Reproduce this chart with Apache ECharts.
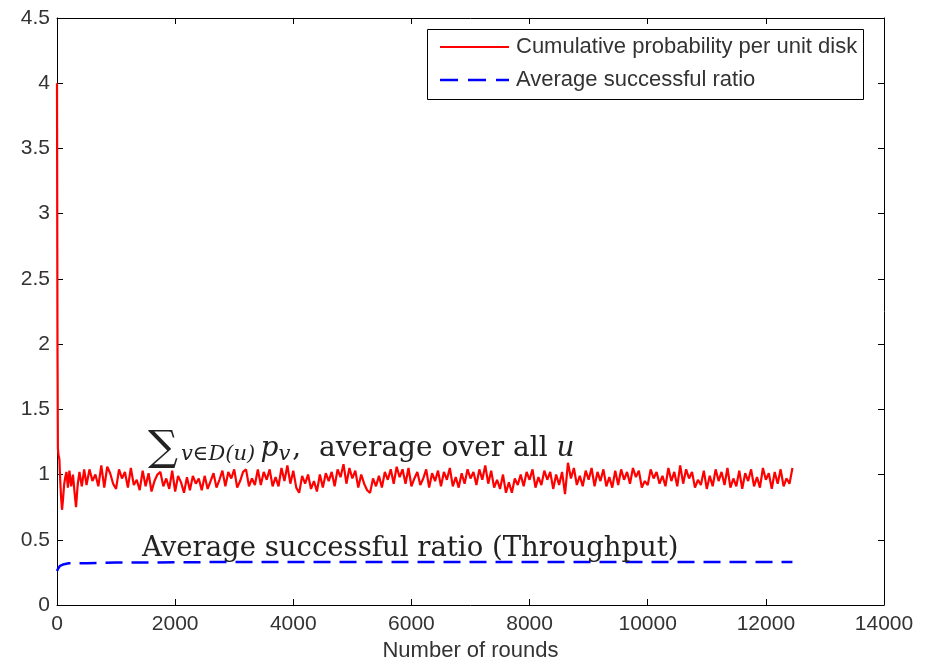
<!DOCTYPE html>
<html>
<head>
<meta charset="utf-8">
<script src="https://cdn.jsdelivr.net/npm/echarts@6/dist/echarts.min.js"></script>
<style>html,body{margin:0;padding:0;background:#fff}#c{width:935px;height:662px}</style>
</head>
<body>
<div id="c"></div>
<script>
// axis ticks
var xTicks = [0, 2000, 4000, 6000, 8000, 10000, 12000, 14000];
var yTicks = [0, 0.5, 1, 1.5, 2, 2.5, 3, 3.5, 4, 4.5];
var legendNames = ['Cumulative probability per unit disk', 'Average successful ratio'];

// Red: cumulative probability per unit disk — early transient (explicit rounds)
var redEarlyRounds = [0, 8, 15, 25, 40, 55, 70, 85, 100, 120, 140, 160, 185, 210, 240, 270, 300, 322, 350, 380, 420, 460];
var redEarlyValues = [4.0, 2.0, 1.2, 1.15, 1.12, 0.95, 0.82, 0.73, 0.80, 0.92, 0.98, 1.02, 0.90, 1.03, 0.91, 1.00, 0.85, 0.75, 0.92, 1.02, 0.91, 1.04];

// Red: rounds 500..12450, sampled every 50 rounds
var redStart = 500, redStep = 50;
var redValues = [
 0.92,1.04,0.95,1.00,0.91,1.07,0.90,1.06,1.01,0.93,0.89,1.04,0.97,1.02,0.90,1.05,0.92,0.96,0.88,1.03,
 0.91,1.01,0.87,0.95,1.00,1.02,0.91,0.97,0.89,1.03,0.87,0.99,0.94,0.86,0.98,0.88,0.99,0.93,0.97,0.88,
 0.99,0.89,0.95,1.01,0.90,0.96,1.03,0.91,1.02,0.97,1.04,0.90,0.95,1.02,1.04,0.91,0.97,0.92,1.04,0.92,
 1.02,0.96,1.04,0.91,0.98,0.91,1.05,0.95,1.07,0.93,1.03,0.90,0.86,0.99,0.93,1.00,0.89,0.95,0.87,1.00,
 0.90,1.01,0.95,1.02,0.91,1.04,0.98,1.08,0.93,1.05,0.97,1.03,0.90,1.00,0.93,0.88,0.86,0.97,0.91,0.99,
 0.90,1.02,0.96,1.04,0.93,1.06,0.98,1.04,0.93,1.05,0.91,0.97,1.02,0.92,0.97,1.04,0.90,1.01,0.95,1.03,
 0.91,1.02,0.96,1.05,0.91,0.98,0.90,1.01,0.93,1.04,0.97,1.02,0.92,1.04,0.96,1.07,0.93,1.03,0.90,0.96,
 0.89,1.00,0.86,0.94,0.86,0.97,0.92,1.00,0.91,1.02,0.96,1.04,0.90,0.98,0.92,1.03,0.96,1.02,0.89,1.00,
 0.92,1.02,0.85,1.09,0.97,1.05,0.92,0.99,0.91,1.03,0.96,1.05,0.91,1.02,0.95,1.04,0.91,0.98,0.90,1.03,
 0.92,1.04,0.96,1.02,0.93,1.05,0.98,1.03,0.90,0.95,0.92,1.04,0.97,1.02,0.93,0.99,0.91,1.05,0.95,1.02,
 0.91,1.07,0.93,1.04,0.97,1.02,0.90,0.96,0.92,1.03,0.89,0.99,0.91,1.04,0.95,1.02,0.92,1.05,0.90,0.97,
 0.91,1.03,0.89,1.01,0.95,1.04,0.91,0.98,0.90,1.05,0.96,1.01,0.89,1.02,0.93,1.04,0.91,0.97,0.93,1.05
];

// Blue: average successful ratio
var blueRounds = [0, 20, 50, 100, 200, 500, 1000, 3000, 12450];
var blueValues = [0.26, 0.28, 0.30, 0.31, 0.32, 0.32, 0.325, 0.33, 0.33];

var redData = [];
for (var i = 0; i < redEarlyRounds.length; i++) redData.push([redEarlyRounds[i], redEarlyValues[i]]);
for (var j = 0; j < redValues.length; j++) redData.push([redStart + j * redStep, redValues[j]]);
var blueData = blueRounds.map(function (r, k) { return [r, blueValues[k]]; });

var SANS = 'Liberation Sans, Arial, sans-serif';
var SERIF = 'DejaVu Serif';
var FS = 21;
function baseAxis(extra) {
  var o = {
    type: 'value',
    axisLine: {show: true, onZero: false, lineStyle: {color: '#000', width: 1}},
    axisTick: {show: true, inside: true, length: 6, lineStyle: {color: '#000'}},
    splitLine: {show: false}
  };
  for (var k in extra) o[k] = extra[k];
  return o;
}
function plain(v) { return String(v); }

var chart = echarts.init(document.getElementById('c'), null, {renderer: 'canvas'});
chart.setOption({
  animation: false,
  backgroundColor: '#fff',
  legend: {show: false},
  grid: {left: 57, right: 51, top: 18, bottom: 57, containLabel: false, outerBoundsMode: 'none'},
  xAxis: [
    baseAxis({min: xTicks[0], max: xTicks[xTicks.length - 1], interval: 2000, position: 'bottom',
      name: 'Number of rounds', nameLocation: 'middle', nameGap: 35,
      nameTextStyle: {fontFamily: SANS, fontSize: 22, color: '#333'},
      axisLabel: {margin: 9, fontFamily: SANS, fontSize: FS, color: '#333', formatter: plain}}),
    baseAxis({min: xTicks[0], max: xTicks[xTicks.length - 1], interval: 2000, position: 'top',
      axisLabel: {show: false}})
  ],
  yAxis: [
    baseAxis({min: yTicks[0], max: yTicks[yTicks.length - 1], interval: 0.5, position: 'left',
      axisLabel: {margin: 7, fontFamily: SANS, fontSize: FS, color: '#333', formatter: plain}}),
    baseAxis({min: yTicks[0], max: yTicks[yTicks.length - 1], interval: 0.5, position: 'right',
      axisLabel: {show: false}})
  ],
  graphic: [
    // legend box
    {type: 'rect', shape: {x: 427.5, y: 29.5, width: 436, height: 70}, z: 20,
      style: {fill: '#fff', stroke: '#000', lineWidth: 1}},
    {type: 'line', shape: {x1: 440, y1: 47, x2: 509, y2: 47}, z: 21,
      style: {stroke: '#ff0000', lineWidth: 2}},
    {type: 'line', shape: {x1: 440, y1: 80, x2: 509, y2: 80}, z: 21,
      style: {stroke: '#0000ff', lineWidth: 2.5, lineDash: [18, 10]}},
    {type: 'text', x: 516, y: 47, z: 21,
      style: {text: legendNames[0], fontFamily: SANS, fontSize: 22, fill: '#333', verticalAlign: 'middle'}},
    {type: 'text', x: 516, y: 80, z: 21,
      style: {text: legendNames[1], fontFamily: SANS, fontSize: 22, fill: '#333', verticalAlign: 'middle'}},
    // annotations
    {type: 'text', x: 148, y: 470, z: 10,
      style: {
        verticalAlign: 'bottom',
        rich: {
          sum: {fontFamily: SERIF, fontSize: 42, fill: '#222', verticalAlign: 'bottom', padding: [0, 3, 0, 0]},
          sub: {fontFamily: SERIF, fontStyle: 'italic', fontSize: 21, fill: '#222', padding: [0, 2, -11, 0]},
          it: {fontFamily: SERIF, fontStyle: 'italic', fontSize: 28, fill: '#222'},
          n: {fontFamily: SERIF, fontSize: 28, fill: '#222'}
        },
        text: '{sum|∑}{sub|v∈D(u)} {it|p}{sub|v}{n|,  average over all }{it|u}'
      }
    },
    {type: 'text', x: 142, y: 535, z: 10,
      style: {fontFamily: SERIF, fontSize: 27.5, fill: '#222', verticalAlign: 'top', text: 'Average successful ratio (Throughput)'}
    }
  ],
  series: [
    {name: legendNames[0], type: 'line', data: redData,
      symbol: 'none', showSymbol: false,
      lineStyle: {color: '#ff0000', width: 2.2}, itemStyle: {color: '#ff0000'}},
    {name: legendNames[1], type: 'line', data: blueData,
      symbol: 'none', showSymbol: false,
      lineStyle: {color: '#0000ff', width: 2.5, type: [17, 9]}, itemStyle: {color: '#0000ff'}}
  ]
});
</script>
</body>
</html>
